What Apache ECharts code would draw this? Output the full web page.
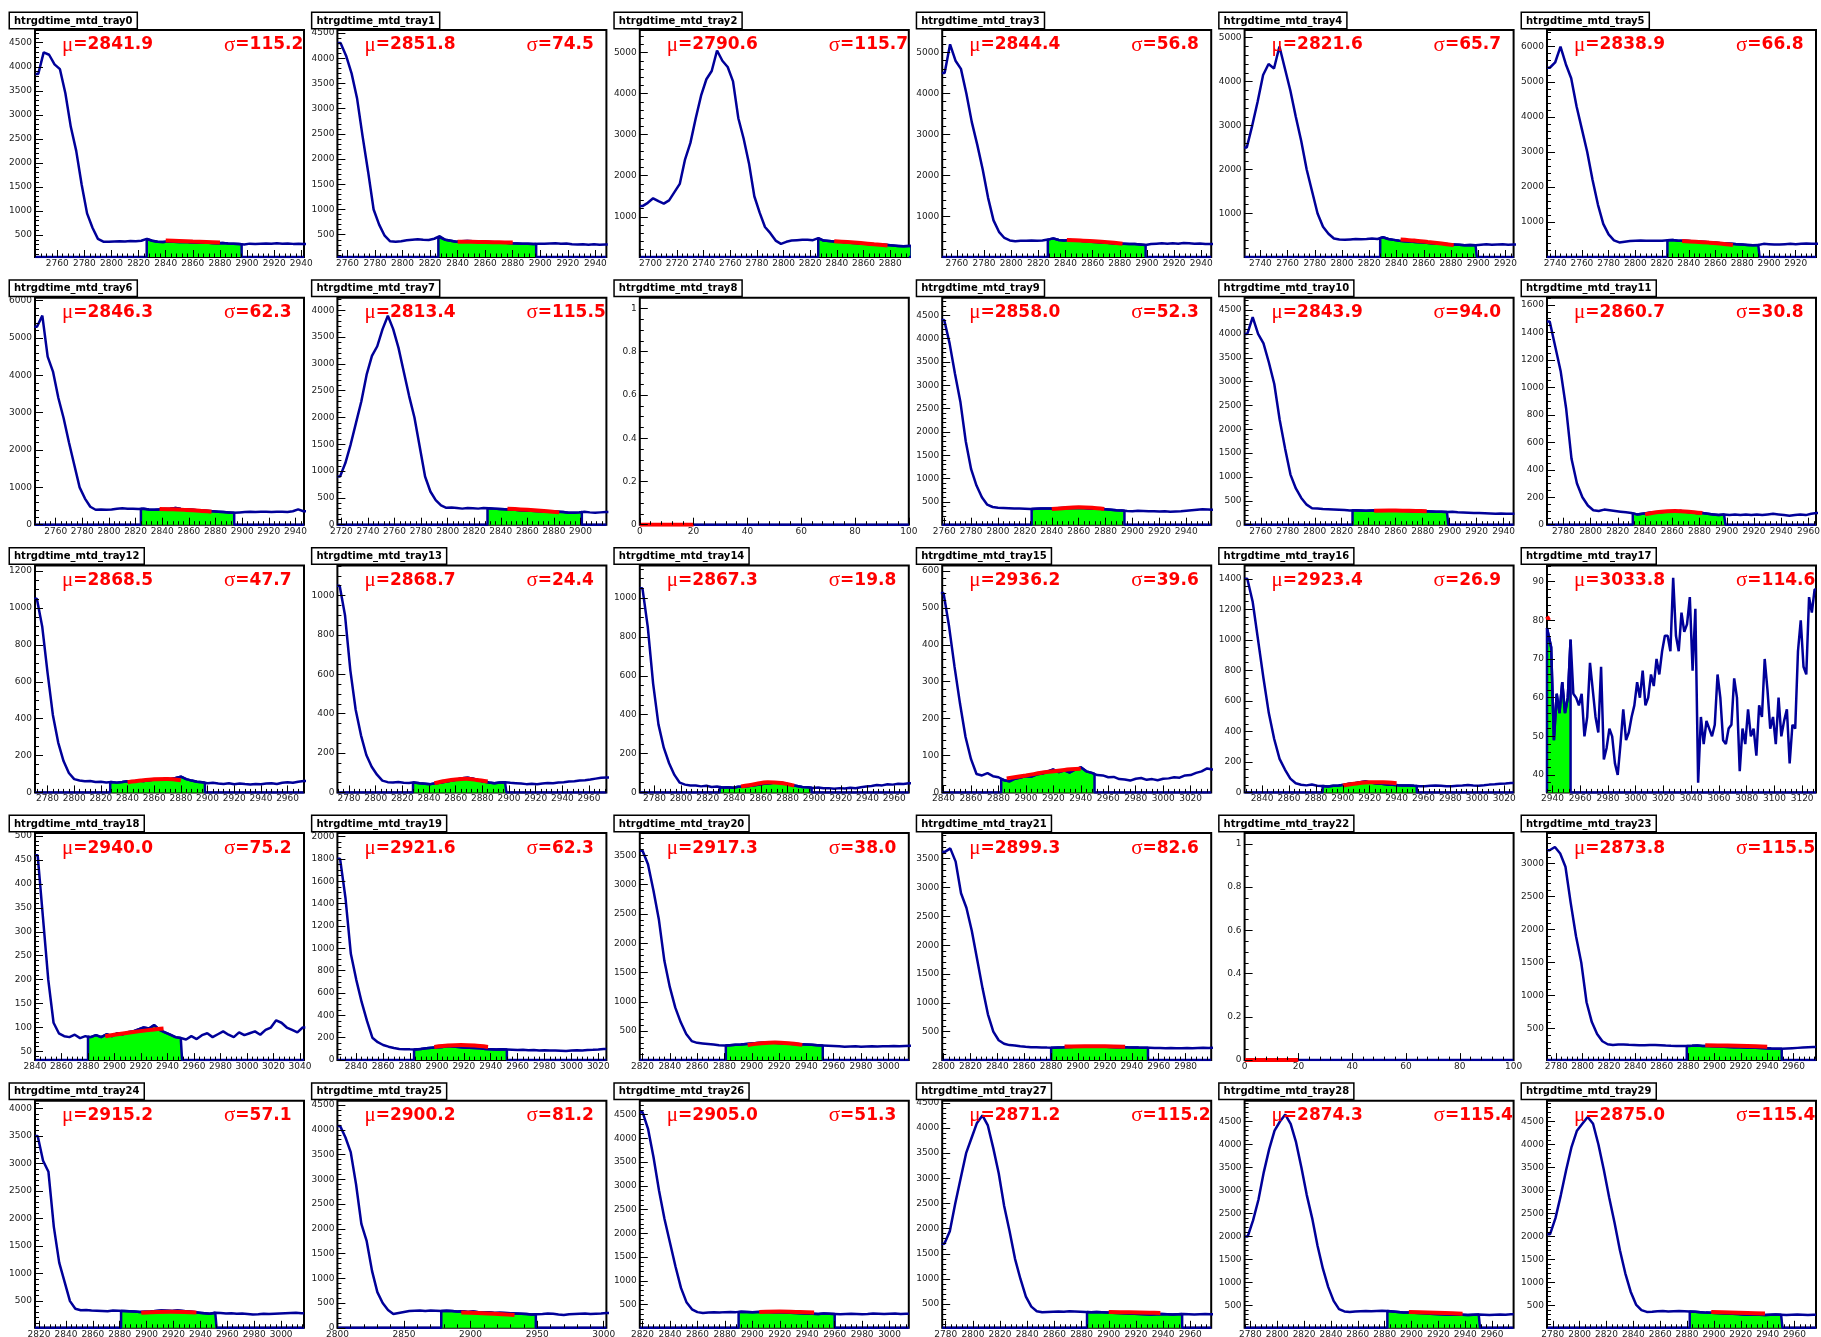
<!DOCTYPE html>
<html><head><meta charset="utf-8">
<script src="https://cdn.jsdelivr.net/npm/echarts@6/dist/echarts.min.js"></script>
<style>html,body{margin:0;padding:0;background:#fff}#c{width:1821px;height:1337px}</style>
</head><body><div id="c"></div>
<script>
// ---------------- data ----------------
const titles = Array.from({length:30},(_,i)=>'htrgdtime_mtd_tray'+i);
const muVals = ['2841.9','2851.8','2790.6','2844.4','2821.6','2838.9','2846.3','2813.4',null,'2858.0','2843.9','2860.7',
  '2868.5','2868.7','2867.3','2936.2','2923.4','3033.8','2940.0','2921.6','2917.3','2899.3',null,'2873.8',
  '2915.2','2900.2','2905.0','2871.2','2874.3','2875.0'];
const sigmaVals = ['115.2','74.5','115.7','56.8','65.7','66.8','62.3','115.5',null,'52.3','94.0','30.8',
  '47.7','24.4','19.8','39.6','26.9','114.6','75.2','62.3','38.0','82.6',null,'115.5',
  '57.1','81.2','51.3','115.2','115.4','115.4'];
const xRanges = [[2743.6,2942],[2752.7,2948],[2692,2894],[2749.2,2947.3],[2728.4,2926],[2733.9,2935.2],
  [2744.5,2946.4],[2717,2919.5],[0,100],[2758.5,2958.5],[2748,2947.4],[2768,2965.5],
  [2770.6,2972.3],[2771.3,2973],[2769,2971],[2839,3035],[2827,3027],[2936,3130],
  [2840,3043],[2826,3026],[2818,3015],[2799,2999],[0,100],[2773,2977],
  [2817,3017],[2800,3002],[2818,3014],[2777.4,2975.4],[2775.7,2976],[2775.7,2976]];
const yRanges = [[42,4765],[58,4560],[20,5550],[5,5550],[10,5175],[5,6476],
  [0,6080],[0,4236],[0,1.05],[10,4880],[0,4759],[0,1653],
  [0,1231],[0,1153],[0,1168],[0,615],[0,1488],[35.5,94.2],
  [32,506],[0,2030],[5,3881],[5,3945],[0,1.05],[25,3460],
  [15,4140],[0,4587],[10,4790],[30,4540],[15,4950],[15,4950]];
const xSteps = [20,20,20,20,20,20, 20,20,20,20,20,20, 20,20,20,20,20,20, 20,20,20,20,20,20, 20,50,20,20,20,20];
const ySteps = [500,500,1000,1000,1000,1000, 1000,500,0.2,500,500,200, 200,200,200,100,200,10, 50,200,500,500,0.2,500, 500,500,500,500,500,500];
const binStart = [2744,2753,2692,2749,2728,2734, 2744,2717,0,2758,2748,2768, 2770,2771,2769,2838,2827,2936,
  2840,2826,2818,2799,0,2773, 2817,2800,2818,2777,2776,2776];
const binWidth = [4,4,4,4,4,4, 4,4,10,4,4,4, 4,4,4,4,4,2, 4,4,4,4,10,4, 4,4,4,4,4,4];
const greenRanges = [[2826,2896],[2826,2897],[2826,2896],[2827,2899],[2828,2899],[2824,2893],
  [2824,2894],[2830,2901],null,[2825,2894],[2828,2899],[2831,2899],
  [2827,2898],[2828,2898],[2829,2898],[2882,2950],[2885,2955],[2936,2953],
  [2880,2951],[2883,2952],[2881,2952],[2880,2952],null,[2879,2951],
  [2881,2952],[2878,2949],[2890,2960],[2884,2954],[2882,2951],[2882,2951]];

const hist0 = [3850,4300,4250,4050,3950,3450,2750,2250,1550,950,650,420,360,360,365,370,365,375,370,380,420,380,360,355,365,360,355,360,350,345,340,345,335,330,335,325,320,310,300,320,315,320,325,320,330,320,325,315,320,310];
const hist1 = [4300,4050,3700,3200,2450,1750,1000,700,480,370,360,370,390,400,410,400,395,420,470,400,380,360,370,375,370,365,360,355,350,345,340,330,325,320,320,315,320,320,325,330,320,325,310,305,310,300,310,300,305];
const hist2 = [1260,1340,1450,1380,1320,1400,1600,1800,2400,2800,3400,3950,4350,4550,5050,4800,4650,4300,3400,2900,2300,1500,1100,750,600,420,340,390,420,430,440,440,430,480,420,410,400,395,380,370,360,350,340,330,330,320,310,300,290,280,290];
const hist3 = [4500,5200,4800,4600,4000,3300,2750,2150,1450,900,620,470,410,390,400,400,410,400,410,430,460,420,410,420,410,400,390,380,370,360,350,340,335,330,325,320,310,300,320,330,340,330,340,330,345,340,330,335,320,320];
const hist4 = [2500,3000,3550,4150,4400,4300,4800,4300,3800,3200,2650,2000,1500,1000,700,540,430,410,400,410,420,415,420,430,420,460,420,400,380,370,360,350,345,335,320,315,310,300,295,290,280,285,280,290,300,290,295,300,290,295];
const hist5 = [5400,5550,6000,5500,5100,4300,3650,3000,2200,1500,950,650,480,420,440,460,470,475,470,465,470,470,480,490,470,465,460,450,440,430,420,410,400,390,380,370,360,350,340,345,380,370,360,360,370,380,370,380,390,380,385];
const hist6 = [5300,5600,4500,4100,3400,2850,2200,1600,1000,700,480,400,410,400,410,430,440,430,430,420,430,410,400,410,420,430,450,420,410,400,390,380,370,360,350,340,330,320,330,340,350,340,345,350,340,350,345,340,360,410,360];
const hist7 = [900,1150,1500,1900,2300,2800,3150,3330,3650,3900,3650,3300,2850,2400,2000,1450,900,620,460,360,315,320,310,300,310,305,300,310,305,300,295,290,280,280,270,265,260,255,250,250,245,240,235,225,225,230,240,230,225,230,235];
const hist8 = [0,0,0,0,0,0,0,0,0,0];
const hist9 = [4400,3900,3250,2650,1800,1200,850,600,440,390,375,370,365,360,355,350,345,350,355,360,360,365,370,375,370,375,370,360,355,350,340,330,320,315,305,300,310,305,300,300,295,300,290,295,300,310,320,330,340,335,330];
const hist10 = [4000,4350,4000,3800,3400,2950,2200,1600,1050,760,560,420,345,340,330,325,320,315,310,300,305,300,295,300,305,300,300,295,290,290,285,280,285,280,275,270,270,265,270,260,255,250,245,245,240,235,230,235,230,230];
const hist11 = [1480,1300,1120,850,480,300,200,140,105,100,110,105,100,95,90,85,75,80,85,90,90,95,95,95,100,95,90,85,85,80,75,70,75,70,75,70,75,70,75,70,75,80,75,70,65,70,75,70,80,85];
const hist12 = [1050,900,650,420,270,170,105,72,65,60,62,56,58,54,57,53,56,60,58,64,62,66,70,68,74,72,78,85,72,64,58,55,50,52,48,46,50,44,48,45,43,46,44,48,50,46,52,55,52,58,62];
const hist13 = [1050,900,620,420,290,190,130,90,60,52,50,53,49,48,51,46,44,42,46,50,55,60,66,72,75,70,62,55,50,47,50,52,49,47,45,42,44,41,45,48,46,50,52,55,57,60,62,65,70,74,76];
const hist14 = [1050,850,560,350,230,150,90,50,40,35,36,31,34,28,30,25,27,24,29,30,33,37,40,46,47,52,50,45,38,33,28,26,23,25,21,22,19,22,20,24,21,26,30,33,38,36,42,40,44,43,47];
const hist15 = [540,450,340,240,150,90,50,46,52,44,41,33,30,37,40,44,43,49,51,57,62,55,60,54,62,68,57,53,47,46,41,42,36,35,32,37,39,34,36,33,37,38,41,40,46,47,53,57,65,62];
const hist16 = [1400,1250,1000,750,520,350,220,150,90,60,50,46,52,44,42,39,43,45,50,56,60,66,72,64,58,56,51,50,47,45,46,43,41,40,43,46,44,41,40,43,45,49,46,44,47,51,53,56,58,61];
const hist17 = [78,73,49,61,56,64,56,60,75,61,60,58,61,50,55,69,62,55,51,68,44,47,52,50,43,40,48,57,49,51,55,58,64,60,67,58,60,66,63,70,66,72,76,76,72,91,76,72,82,77,79,86,67,83,38,55,48,54,52,50,53,66,60,49,48,52,53,65,60,41,52,48,57,50,52,45,58,55,70,62,52,55,48,60,50,54,57,43,53,52,72,80,68,66,86,82,88];
const hist18 = [460,330,200,110,88,82,80,85,78,82,80,84,80,86,82,88,86,90,92,96,100,98,105,95,90,85,80,78,75,82,76,84,88,80,86,92,85,80,90,84,88,92,85,95,100,115,110,100,95,90,100];
const hist19 = [1800,1450,950,720,520,350,200,160,135,120,108,100,98,96,95,100,105,110,115,118,125,122,118,112,110,108,105,100,98,95,96,94,92,90,92,88,90,86,88,85,86,84,82,85,88,86,90,92,95,100];
const hist20 = [3580,3350,2900,2400,1700,1250,900,650,450,330,300,290,280,270,260,255,260,265,270,280,290,295,300,305,300,295,290,285,280,275,270,265,260,255,250,245,240,235,238,240,235,238,240,236,240,242,245,240,245,250];
const hist21 = [3620,3680,3450,2900,2650,2250,1750,1250,800,500,350,290,265,260,245,235,230,228,225,222,220,225,228,232,235,238,240,242,240,238,235,232,230,228,226,225,222,220,218,215,214,212,215,212,210,214,212,215,218,215,220];
const hist22 = [0,0,0,0,0,0,0,0,0,0];
const hist23 = [3200,3250,3150,2950,2400,1900,1500,900,600,420,310,265,255,260,262,258,255,250,248,252,255,250,245,242,240,238,240,242,245,240,238,235,230,228,225,220,218,215,212,210,208,205,200,198,195,200,205,210,215,220,225];
const hist24 = [3500,3050,2850,1850,1200,850,500,360,335,340,330,325,320,315,330,325,320,315,310,300,305,310,320,330,325,320,330,320,310,300,290,280,270,290,285,275,280,270,275,265,255,260,270,265,270,275,280,285,290,280];
const hist25 = [4080,3850,3550,2900,2100,1750,1150,720,500,360,280,300,320,340,345,350,340,350,345,340,345,340,330,335,320,330,315,310,315,300,305,300,295,290,285,280,270,275,280,290,285,270,260,275,280,285,290,280,285,290,300];
const hist26 = [4550,4200,3600,2900,2300,1800,1300,850,550,400,340,320,330,335,330,340,345,340,350,345,340,345,350,345,340,335,330,325,320,315,310,305,300,310,305,300,295,300,305,300,295,300,310,305,300,305,310,300,305];
const hist27 = [1700,1950,2500,3000,3500,3800,4100,4250,4050,3600,3100,2450,1950,1400,1000,650,450,360,340,345,350,355,350,360,355,350,345,340,345,340,335,330,325,320,315,310,305,300,295,300,305,300,295,300,305,300,295,300,305,300];
const hist28 = [2000,2350,2800,3400,3900,4300,4500,4650,4450,4050,3500,2900,2400,1800,1300,900,600,420,370,360,370,375,380,375,380,385,380,370,360,350,345,340,335,330,320,315,310,305,300,305,300,295,300,305,300,295,300,305,300,310];
const hist29 = [2050,2400,2900,3450,3950,4300,4450,4600,4450,4000,3450,2850,2300,1700,1200,800,520,400,360,365,375,380,370,375,380,375,370,365,355,345,340,335,330,325,320,315,305,300,305,300,295,300,305,300,295,300,305,300,295,300];

const fit0 = [[2840,385],[2850,375],[2860,365],[2870,355],[2880,342]];
const fit1 = [[2840,360],[2850,358],[2860,355],[2870,350],[2880,345]];
const fit2 = [[2838,405],[2848,385],[2858,360],[2868,330],[2878,300]];
const fit3 = [[2841,420],[2851,410],[2861,390],[2871,365],[2882,330]];
const fit4 = [[2843,410],[2853,385],[2863,350],[2873,315],[2882,280]];
const fit5 = [[2835,460],[2845,440],[2855,415],[2865,385],[2873,350]];
const fit6 = [[2838,420],[2848,412],[2858,395],[2868,375],[2877,350]];
const fit7 = [[2845,298],[2855,285],[2865,270],[2875,250],[2884,230]];
const fit8 = [[0,0],[20,0]];
const fit9 = [[2840,345],[2850,370],[2860,382],[2870,372],[2879,348]];
const fit10 = [[2844,292],[2855,296],[2865,294],[2875,288],[2883,282]];
const fit11 = [[2840,75],[2850,92],[2862,100],[2872,95],[2882,85]];
const fit12 = [[2840,55],[2850,64],[2860,71],[2870,73],[2880,66]];
const fit13 = [[2844,47],[2852,58],[2860,66],[2868,69],[2876,63],[2884,55]];
const fit14 = [[2845,30],[2855,42],[2865,52],[2875,48],[2885,35]];
const fit15 = [[2886,38],[2900,46],[2915,55],[2928,61],[2940,64]];
const fit16 = [[2900,45],[2910,58],[2920,66],[2930,66],[2940,60]];
const fit17 = [[2936,81],[2937.5,80]];
const fit18 = [[2893,82],[2905,87],[2918,92],[2930,96],[2937,98]];
const fit19 = [[2898,118],[2908,130],[2918,135],[2928,130],[2938,118]];
const fit20 = [[2897,262],[2907,292],[2917,305],[2927,292],[2937,265]];
const fit21 = [[2890,240],[2905,246],[2920,245],[2935,238]];
const fit22 = [[0,0],[20,0]];
const fit23 = [[2893,250],[2910,245],[2925,238],[2940,228]];
const fit24 = [[2896,290],[2908,302],[2918,306],[2928,302],[2937,295]];
const fit25 = [[2893,310],[2905,300],[2918,285],[2933,258]];
const fit26 = [[2905,345],[2920,352],[2935,342],[2945,332]];
const fit27 = [[2900,345],[2915,338],[2930,330],[2938,325]];
const fit28 = [[2898,360],[2912,348],[2925,335],[2938,322]];
const fit29 = [[2898,360],[2912,350],[2925,338],[2938,325]];

const hists = [hist0,hist1,hist2,hist3,hist4,hist5,hist6,hist7,hist8,hist9,hist10,hist11,hist12,hist13,hist14,
  hist15,hist16,hist17,hist18,hist19,hist20,hist21,hist22,hist23,hist24,hist25,hist26,hist27,hist28,hist29];
const fits = [fit0,fit1,fit2,fit3,fit4,fit5,fit6,fit7,fit8,fit9,fit10,fit11,fit12,fit13,fit14,
  fit15,fit16,fit17,fit18,fit19,fit20,fit21,fit22,fit23,fit24,fit25,fit26,fit27,fit28,fit29];

// ---------------- build chart ----------------
const chart = echarts.init(document.getElementById('c'), null, {renderer:'canvas', width:1821, height:1337});
const COLW = 302.4, ROWH = 267.7;
const NAVY = '#000099', GREEN = '#00ff00', RED = '#ff0000';
const grids = [], xAxes = [], yAxes = [], series = [], graphics = [];

function tickVals(min, max, step) {
  const out = [];
  const k0 = Math.ceil(min / step - 1e-9);
  for (let k = k0; k * step <= max + 1e-9; k++) out.push(Math.round(k * step * 1e6) / 1e6);
  return out;
}
function fmt(v) { return String(Math.round(v * 1000) / 1000); }
function lead(step) { return Math.round(step / Math.pow(10, Math.floor(Math.log10(step)))); }

const labelStyle = {fontSize: 9, fontFamily: 'DejaVu Sans', color: '#222'};

for (let i = 0; i < 30; i++) {
  const r = Math.floor(i / 6), c = i % 6;
  const x0 = c * COLW, y0 = r * ROWH;
  const [xmin, xmax] = xRanges[i], [ymin, ymax] = yRanges[i];
  const xs = xSteps[i], ys = ySteps[i];
  grids.push({left: x0 + 35, top: y0 + 30, width: 269, height: 227, show: true,
    borderColor: '#000', borderWidth: 2, backgroundColor: '#fff', containLabel: false, outerBoundsMode: 'none'});
  const xMajor = tickVals(xmin, xmax, xs), xMinor = tickVals(xmin, xmax, xs / 5);
  const yDiv = lead(ys) === 2 ? 4 : 5;
  const yMajor = tickVals(ymin, ymax, ys), yMinor = tickVals(ymin, ymax, ys / yDiv);
  const xi = xAxes.length, yi = yAxes.length;
  xAxes.push({gridIndex: i, type: 'value', min: xmin, max: xmax, position: 'bottom', z: 5,
    axisLine: {show: false}, splitLine: {show: false},
    axisTick: {show: true, inside: true, length: 7, customValues: xMajor, lineStyle: {color: '#000', width: 1}},
    axisLabel: Object.assign({show: true, customValues: xMajor, formatter: fmt, margin: 2}, labelStyle)});
  xAxes.push({gridIndex: i, type: 'value', min: xmin, max: xmax, position: 'bottom', z: 5,
    axisLine: {show: false}, splitLine: {show: false},
    axisTick: {show: true, inside: true, length: 3.5, customValues: xMinor, lineStyle: {color: '#000', width: 1}},
    axisLabel: {show: false}});
  yAxes.push({gridIndex: i, type: 'value', min: ymin, max: ymax, position: 'left', z: 5,
    axisLine: {show: false}, splitLine: {show: false},
    axisTick: {show: true, inside: true, length: 8, customValues: yMajor, lineStyle: {color: '#000', width: 1}},
    axisLabel: Object.assign({show: true, customValues: yMajor, formatter: fmt, margin: 3}, labelStyle)});
  yAxes.push({gridIndex: i, type: 'value', min: ymin, max: ymax, position: 'left', z: 5,
    axisLine: {show: false}, splitLine: {show: false},
    axisTick: {show: true, inside: true, length: 4, customValues: yMinor, lineStyle: {color: '#000', width: 1}},
    axisLabel: {show: false}});

  // histogram drawn as a polyline through the bin centres (fine 1-unit bins look continuous)
  const h = hists[i], st = binStart[i], w = binWidth[i], n = h.length;
  const pts = [[st, h[0]]];
  for (let k = 0; k < n; k++) pts.push([st + (k + 0.5) * w, h[k]]);
  pts.push([st + n * w, h[n - 1]]);
  const valAt = x => {
    for (let k = 1; k < pts.length; k++) {
      if (x <= pts[k][0]) {
        const a = pts[k - 1], b = pts[k], t = (x - a[0]) / ((b[0] - a[0]) || 1);
        return a[1] + t * (b[1] - a[1]);
      }
    }
    return pts[pts.length - 1][1];
  };

  if (greenRanges[i]) {
    const [gL, gR] = greenRanges[i];
    const g = [[xmin, ymin], [gL, ymin], [gL, valAt(gL)]];
    for (const p of pts) if (p[0] > gL && p[0] < gR) g.push(p);
    g.push([gR, valAt(gR)]); g.push([gR, ymin]); g.push([xmax, ymin]);
    series.push({type: 'line', xAxisIndex: xi, yAxisIndex: yi, data: g, showSymbol: false, symbol: 'none',
      lineStyle: {color: NAVY, width: 2.5}, areaStyle: {color: GREEN, opacity: 1, origin: 'start'},
      z: 2, silent: true, animation: false, clip: true});
  }
  series.push({type: 'line', xAxisIndex: xi, yAxisIndex: yi, data: pts, showSymbol: false, symbol: 'none',
    lineStyle: {color: NAVY, width: 2.5}, z: 3, silent: true, animation: false, clip: true});
  series.push({type: 'line', xAxisIndex: xi, yAxisIndex: yi, data: fits[i], showSymbol: false, symbol: 'none',
    smooth: 0.3, lineStyle: {color: RED, width: 4}, z: 4, silent: true, animation: false, clip: true});

  graphics.push({type: 'text', x: x0 + 10, y: y0 + 13, z: 100,
    style: {text: titles[i], fill: '#000', fontFamily: 'DejaVu Sans', fontWeight: 'bold', fontSize: 10,
      backgroundColor: '#fff', borderColor: '#000', borderWidth: 1.5, padding: [3, 4, 2, 4],
      align: 'left', verticalAlign: 'top'}});
  if (muVals[i]) {
    const rich = {g: {fontFamily: 'Liberation Serif', fontSize: 21, fill: RED},
                  v: {fontFamily: 'DejaVu Sans', fontWeight: 'bold', fontSize: 17, fill: RED}};
    graphics.push({type: 'text', x: x0 + 62, y: y0 + 45, z: 100,
      style: {text: '{g|\u03bc}{v|=' + muVals[i] + '}', rich: rich, align: 'left', verticalAlign: 'middle'}});
    graphics.push({type: 'text', x: x0 + 224, y: y0 + 45, z: 100,
      style: {text: '{g|\u03c3}{v|=' + sigmaVals[i] + '}', rich: rich, align: 'left', verticalAlign: 'middle'}});
  }
}

chart.setOption({
  animation: false,
  backgroundColor: '#fff',
  grid: grids, xAxis: xAxes, yAxis: yAxes, series: series,
  graphic: {elements: graphics}
});
</script>
</body></html>
